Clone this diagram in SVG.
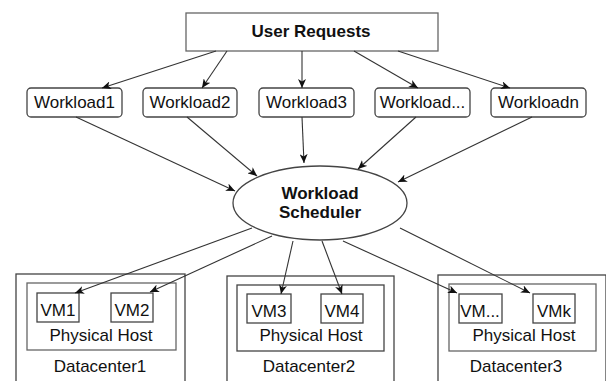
<svg xmlns="http://www.w3.org/2000/svg" width="606" height="381" viewBox="0 0 606 381">
<style>
text{font-family:"Liberation Sans",Arial,sans-serif;font-size:17px;fill:#111;text-anchor:middle}
.b{font-weight:bold}
.box{fill:#fff;stroke:#444;stroke-width:1.3}
.gray{fill:none;stroke:#666;stroke-width:1.3}
.con line{stroke:#333;stroke-width:1.1;marker-end:url(#ah)}
</style>
<defs>
<marker id="ah" markerUnits="userSpaceOnUse" markerWidth="10" markerHeight="8" refX="9" refY="4" orient="auto">
<path d="M0,0 L9,4 L0,8 L2.5,4 Z" fill="#111"/>
</marker>
</defs>
<rect width="606" height="381" fill="#fff"/>
<g id="dc1">
<rect class="box" x="16" y="274" width="169" height="120"/>
<rect class="gray" x="27" y="283" width="149" height="67"/>
<text x="101" y="341">Physical Host</text>
<text x="100" y="372">Datacenter1</text>
</g>
<g id="dc2">
<rect class="box" x="227" y="276" width="167" height="118"/>
<rect class="box" x="237" y="285" width="147" height="66"/>
<text x="311" y="341">Physical Host</text>
<text x="309" y="372">Datacenter2</text>
</g>
<g id="dc3">
<rect class="box" x="438" y="275" width="168" height="119"/>
<rect class="gray" x="449" y="284" width="147" height="67"/>
<text x="524" y="341">Physical Host</text>
<text x="516" y="372">Datacenter3</text>
</g>
<g id="vm1"><rect class="box" x="37" y="293" width="42" height="29"/><text x="58" y="316">VM1</text></g>
<g id="vm2"><rect class="box" x="111" y="293" width="42" height="29"/><text x="132" y="316">VM2</text></g>
<g id="vm3"><rect class="box" x="247" y="294" width="44" height="29"/><text x="269" y="317">VM3</text></g>
<g id="vm4"><rect class="box" x="321" y="294" width="42" height="29"/><text x="342" y="317">VM4</text></g>
<g id="vmdots"><rect class="box" x="459" y="294" width="43" height="29"/><text x="480" y="317">VM...</text></g>
<g id="vmk"><rect class="box" x="533" y="294" width="42" height="29"/><text x="554" y="317">VMk</text></g>
<g id="user">
<rect class="gray" x="186" y="13" width="252" height="38" style="fill:#fff"/>
<text class="b" x="311" y="37">User Requests</text>
</g>
<g id="w1"><rect class="box" x="27" y="88" width="95" height="29" rx="4"/><text x="74.5" y="108">Workload1</text></g>
<g id="w2"><rect class="box" x="143" y="88" width="94" height="29" rx="4"/><text x="190" y="108">Workload2</text></g>
<g id="w3"><rect class="box" x="259" y="88" width="95" height="29" rx="4"/><text x="306.5" y="108">Workload3</text></g>
<g id="wdots"><rect class="box" x="375" y="88" width="95" height="29" rx="4"/><text x="422.5" y="108">Workload...</text></g>
<g id="wn"><rect class="box" x="491" y="88" width="95" height="29" rx="4"/><text x="538.5" y="108">Workloadn</text></g>
<g id="scheduler">
<ellipse class="box" cx="320" cy="203" rx="87" ry="37"/>
<text class="b" x="320" y="199">Workload</text>
<text class="b" x="320" y="218">Scheduler</text>
</g>
<g class="con" id="connectors">
<line x1="216" y1="51" x2="102" y2="88"/>
<line x1="227" y1="51" x2="202" y2="88"/>
<line x1="302" y1="51" x2="302" y2="88"/>
<line x1="354" y1="51" x2="418" y2="88"/>
<line x1="398" y1="51" x2="510" y2="88"/>
<line x1="76" y1="117" x2="235" y2="191"/>
<line x1="187" y1="117" x2="257" y2="176"/>
<line x1="302" y1="117" x2="304" y2="163"/>
<line x1="416" y1="117" x2="358" y2="169"/>
<line x1="532" y1="117" x2="398" y2="182"/>
<line x1="252" y1="228" x2="75" y2="293"/>
<line x1="272" y1="236" x2="150" y2="292"/>
<line x1="293" y1="241" x2="281" y2="294"/>
<line x1="322" y1="241" x2="342" y2="294"/>
<line x1="343" y1="241" x2="457" y2="293"/>
<line x1="400" y1="228" x2="530" y2="293"/>
</g>
</svg>
